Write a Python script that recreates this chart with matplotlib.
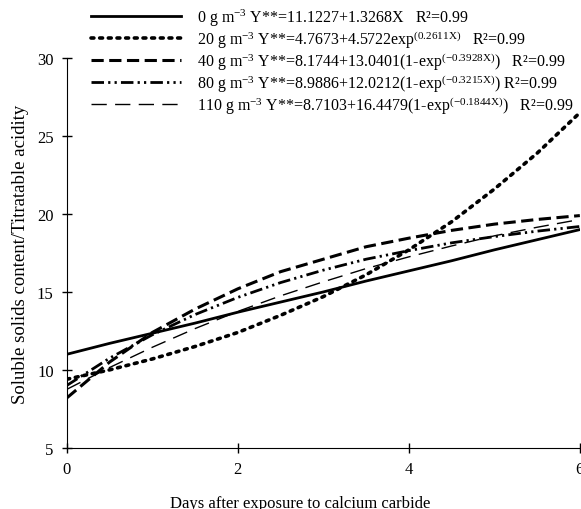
import matplotlib
matplotlib.use("Agg")
import matplotlib.pyplot as plt

plt.rcParams["font.family"] = ["Liberation Serif", "DejaVu Serif"]
plt.rcParams["mathtext.fontset"] = "custom"
plt.rcParams["mathtext.rm"] = "Liberation Serif"
plt.rcParams["mathtext.it"] = "Liberation Serif:italic"

days = [0, 0.5, 1, 1.5, 2, 2.5, 3, 3.5, 4, 4.5, 5, 5.5, 6]

# at half-day steps
ratio_0 = [11.0, 11.7, 12.35, 13.0, 13.7, 14.35, 15.0, 15.7, 16.35, 17.0, 17.7, 18.35, 19.0]
ratio_20 = [9.4, 10.0, 10.7, 11.5, 12.4, 13.5, 14.7, 16.1, 17.7, 19.5, 21.6, 23.9, 26.5]
ratio_40 = [8.2, 10.5, 12.4, 13.9, 15.2, 16.3, 17.1, 17.9, 18.45, 18.95, 19.35, 19.65, 19.9]
ratio_80 = [9.0, 10.75, 12.25, 13.55, 14.65, 15.6, 16.4, 17.1, 17.65, 18.15, 18.55, 18.9, 19.2]
ratio_110 = [8.75, 10.15, 11.45, 12.65, 13.75, 14.75, 15.65, 16.5, 17.25, 17.95, 18.6, 19.15, 19.65]

labels = [
    r"0 g m$^{-3}$ Y**=11.1227+1.3268X   R²=0.99",
    r"20 g m$^{-3}$ Y**=4.7673+4.5722exp$^{(0.2611\mathrm{X})}$   R²=0.99",
    r"40 g m$^{-3}$ Y**=8.1744+13.0401(1-exp$^{(-0.3928\mathrm{X})}$)   R²=0.99",
    r"80 g m$^{-3}$ Y**=8.9886+12.0212(1-exp$^{(-0.3215\mathrm{X})}$) R²=0.99",
    r"110 g m$^{-3}$ Y**=8.7103+16.4479(1-exp$^{(-0.1844\mathrm{X})}$)   R²=0.99",
]

fig = plt.figure(figsize=(5.81, 5.10), dpi=100)
ax = fig.add_axes([0.115, 0.12, 0.883, 0.764])

ax.plot(days, ratio_0, color="black", lw=2.0, ls="-", label=labels[0])
ax.plot(days, ratio_20, color="black", lw=2.6, ls=(0, (0.8, 1.6)),
        dash_capstyle="round", label=labels[1])
ax.plot(days, ratio_40, color="black", lw=2.2, ls=(0, (4, 1.8)), label=labels[2])
ax.plot(days, ratio_80, color="black", lw=2.0,
        ls=(0, (4.5, 1.5, 0.8, 1.5, 0.8, 1.5)), label=labels[3])
ax.plot(days, ratio_110, color="black", lw=1.0, ls=(0, (11, 6)), label=labels[4])

ax.set_xlim(0, 6)
ax.set_ylim(5, 30)
ax.set_xticks([0, 2, 4, 6])
ax.set_yticks([5, 10, 15, 20, 25, 30])
ax.tick_params(direction="inout", length=7, width=1, labelsize=12, pad=6)
ax.spines["top"].set_visible(False)
ax.spines["right"].set_visible(False)
ax.set_xlabel("Days after exposure to calcium carbide", fontsize=12)
ax.xaxis.set_label_coords(0.455, -0.122)
ax.set_ylabel("Soluble solids content/Titratable acidity", fontsize=13.5, labelpad=6)

fig.legend(loc="upper left", bbox_to_anchor=(0.135, 1.01), frameon=False,
           fontsize=11.5, handlelength=5.6, handletextpad=1.0, labelspacing=0.0,
           borderpad=0.3)

fig.savefig("out.png", dpi=100)
